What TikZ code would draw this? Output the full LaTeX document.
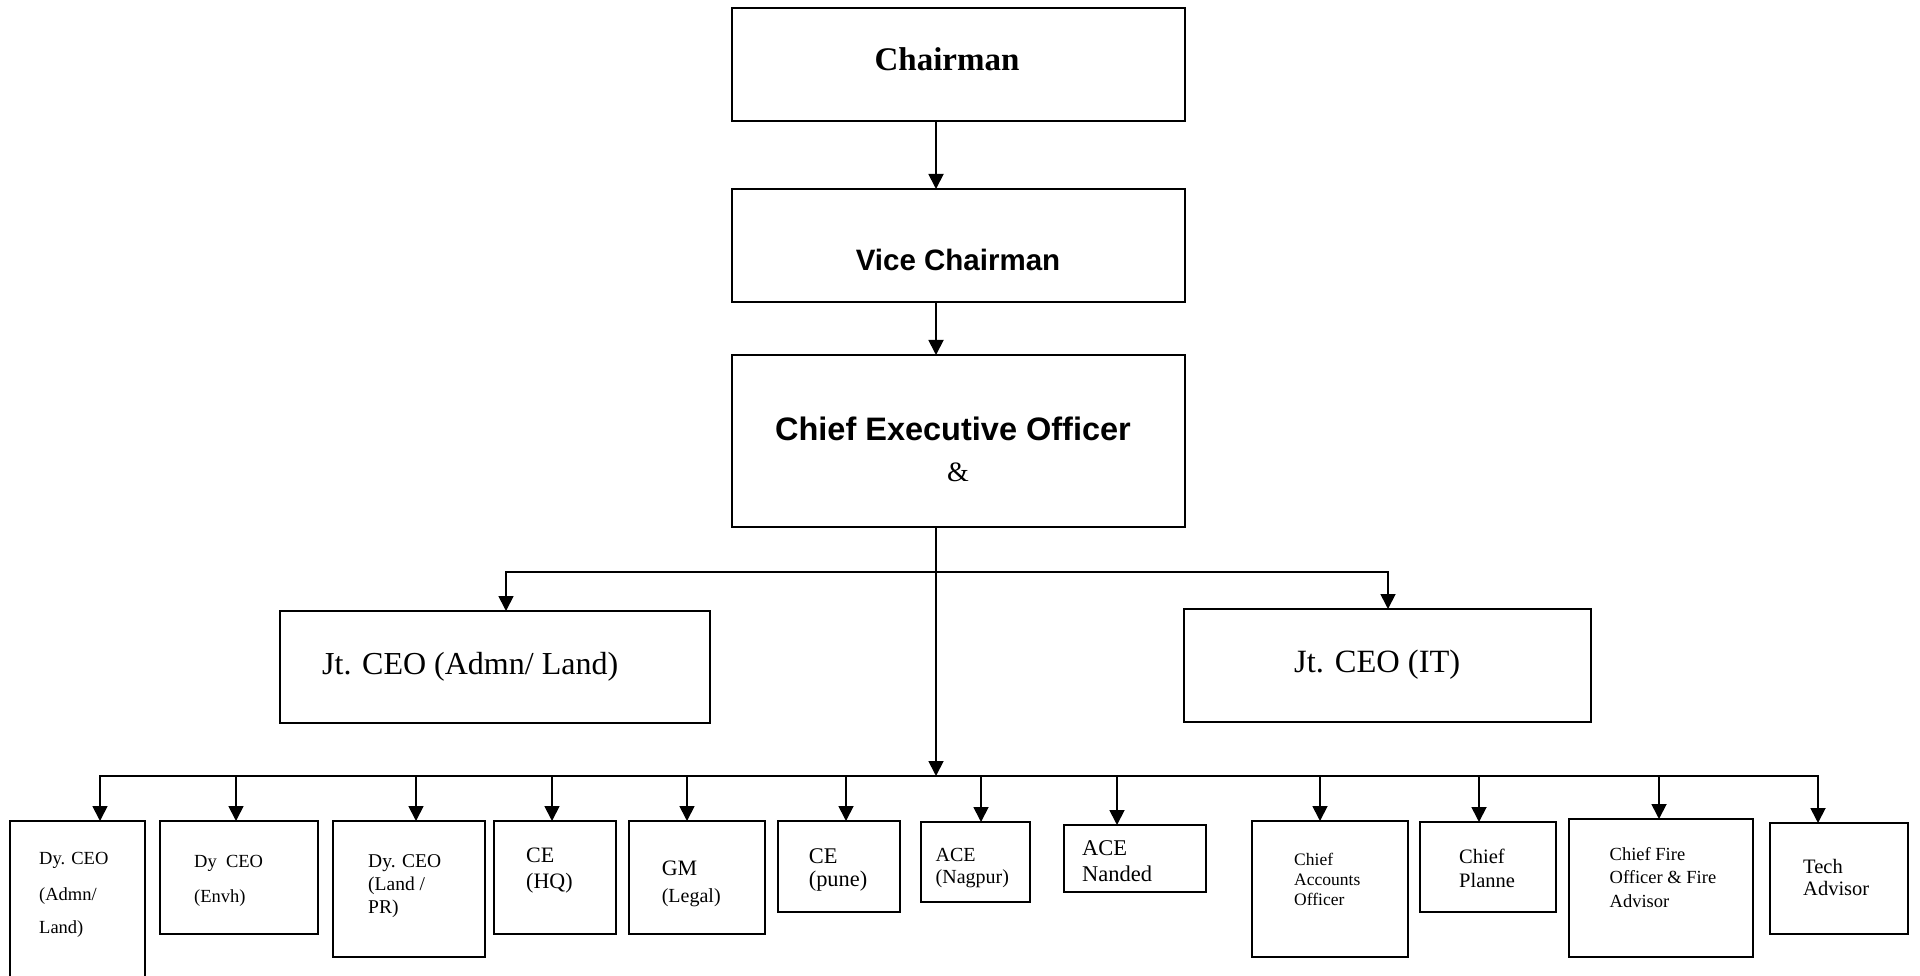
\documentclass[tikz,border=0pt]{standalone}
\usepackage{fontspec}
\setmainfont{Liberation Serif}
\newfontfamily\arialfont{Liberation Sans}
\usetikzlibrary{arrows.meta}
\tikzset{
  box/.style={draw=black, line width=1.8pt, rectangle, inner sep=0pt, outer sep=0pt, anchor=north west},
  thickbox/.style={box, line width=2.6pt},
  conn/.style={line width=1.8pt, line cap=rect, -{Triangle[width=15pt,length=15pt]}},
  plain/.style={line width=1.8pt, line cap=rect},
  lbl/.style={anchor=base west, inner sep=0pt},
  clbl/.style={anchor=base, inner sep=0pt},
}
\newcommand{\fs}[1]{\fontsize{#1}{#1}\selectfont}
\begin{document}
\begin{tikzpicture}[x=1pt,y=-1pt]
\useasboundingbox (0,0) rectangle (1920,976);
\clip (0,0) rectangle (1920,976);
\fill[white] (0,0) rectangle (1920,976);

% top boxes
\node[box, minimum width=453pt, minimum height=113pt] (chair) at (732,8) {};
\node[box, minimum width=453pt, minimum height=113pt] (vice) at (732,189) {};
\node[box, minimum width=453pt, minimum height=172pt] (ceo) at (732,355) {};
\node[box, minimum width=430pt, minimum height=112pt] (jtA) at (280,611) {};
\node[box, minimum width=407pt, minimum height=113pt] (jtI) at (1184,609) {};

% bottom boxes
\node[box, minimum width=135pt, minimum height=179pt] (b1) at (10,821) {};
\node[box, minimum width=158pt, minimum height=113pt] (b2) at (160,821) {};
\node[box, minimum width=152pt, minimum height=136pt] (b3) at (333,821) {};
\node[box, minimum width=122pt, minimum height=113pt] (b4) at (494,821) {};
\node[box, minimum width=136pt, minimum height=113pt] (b5) at (629,821) {};
\node[box, minimum width=122pt, minimum height=91pt] (b6) at (778,821) {};
\node[thickbox, minimum width=109pt, minimum height=80pt] (b7) at (921,822) {};
\node[box, minimum width=142pt, minimum height=67pt] (b8) at (1064,825) {};
\node[box, minimum width=156pt, minimum height=136pt] (b9) at (1252,821) {};
\node[box, minimum width=136pt, minimum height=90pt] (b10) at (1420,822) {};
\node[box, minimum width=184pt, minimum height=138pt] (b11) at (1569,819) {};
\node[box, minimum width=138pt, minimum height=111pt] (b12) at (1770,823) {};

% texts
\node[clbl, font=\bfseries\fs{33}] (tChair) at (947,70.6) {Chairman};
\node[clbl, font=\arialfont\bfseries\fs{29.5}] (tVice) at (958,271) {Vice Chairman};
\node[clbl, font=\arialfont\bfseries\fs{32.5}] (tCeo) at (953,440) {Chief Executive Officer};
\node[clbl, font=\fs{28}] (tAmp) at (958,481) {\&};
\node[lbl, font=\fs{32}] (tJA) at (322,674) {Jt. CEO (Admn/ Land)};
\node[lbl, font=\fs{32.5}] (tJI) at (1294,672) {Jt. CEO (IT)};

\node[lbl, font=\fs{18.5}] (t1a) at (39,864) {Dy. CEO};
\node[lbl, font=\fs{18.5}] (t1b) at (39,900) {(Admn/};
\node[lbl, font=\fs{18.5}] (t1c) at (39,933) {Land)};

\node[lbl, font=\fs{18.5}] (t2a) at (194,867) {Dy\ \ CEO};
\node[lbl, font=\fs{18.5}] (t2b) at (194,902) {(Envh)};

\node[lbl, font=\fs{19.5}] (t3a) at (368,867) {Dy. CEO};
\node[lbl, font=\fs{19.5}] (t3b) at (368,890) {(Land /};
\node[lbl, font=\fs{19.5}] (t3c) at (368,913) {PR)};

\node[lbl, font=\fs{22}] (t4a) at (526,862) {CE};
\node[lbl, font=\fs{22}] (t4b) at (526,888) {(HQ)};

\node[lbl, font=\fs{22}] (t5a) at (661.6,875) {GM};
\node[lbl, font=\fs{20}] (t5b) at (661.6,902) {(Legal)};

\node[lbl, font=\fs{22.4}] (t6a) at (808.6,863) {CE};
\node[lbl, font=\fs{22.4}] (t6b) at (808.6,886) {(pune)};

\node[lbl, font=\fs{20}] (t7a) at (935.5,861) {ACE};
\node[lbl, font=\fs{20}] (t7b) at (935.5,883) {(Nagpur)};

\node[lbl, font=\fs{22.5}] (t8a) at (1082,855) {ACE};
\node[lbl, font=\fs{22.5}] (t8b) at (1082,881) {Nanded};

\node[lbl, font=\fs{17.5}] (t9a) at (1294,865) {Chief};
\node[lbl, font=\fs{17.5}] (t9b) at (1294,885) {Accounts};
\node[lbl, font=\fs{17.5}] (t9c) at (1294,905) {Officer};

\node[lbl, font=\fs{20.5}] (t10a) at (1459,863) {Chief};
\node[lbl, font=\fs{20.5}] (t10b) at (1459,887) {Planne};

\node[lbl, font=\fs{18.5}] (t11a) at (1609.5,860) {Chief Fire};
\node[lbl, font=\fs{18.5}] (t11b) at (1609.5,883) {Officer \& Fire};
\node[lbl, font=\fs{18.5}] (t11c) at (1609.5,907) {Advisor};

\node[lbl, font=\fs{20.5}] (t12a) at (1803,873) {Tech};
\node[lbl, font=\fs{20.5}] (t12b) at (1803,895) {Advisor};

% spine
\coordinate (sp) at (936,0);
\coordinate (brL) at (506,572);
\coordinate (brR) at (1388,572);
\coordinate (bus) at (936,776);

\draw[conn] (sp |- chair.south) -- (sp |- vice.north);
\draw[conn] (sp |- vice.south) -- (sp |- ceo.north);
\draw[conn] (sp |- ceo.south) -- (bus);
\draw[plain] (brL) -- (brR);
\draw[conn] (brL) -- (brL |- jtA.north);
\draw[conn] (brR) -- (brR |- jtI.north);

% bus
\coordinate (k1) at (100,776);
\coordinate (k2) at (236,776);
\coordinate (k3) at (416,776);
\coordinate (k4) at (552,776);
\coordinate (k5) at (687,776);
\coordinate (k6) at (846,776);
\coordinate (k7) at (981,776);
\coordinate (k8) at (1117,776);
\coordinate (k9) at (1320,776);
\coordinate (k10) at (1479,776);
\coordinate (k11) at (1659,776);
\coordinate (k12) at (1818,776);
\draw[plain] (k1) -- (k12);
\foreach \i in {1,...,12} {
  \draw[conn] (k\i) -- (k\i |- b\i.north);
}
\end{tikzpicture}
\end{document}
